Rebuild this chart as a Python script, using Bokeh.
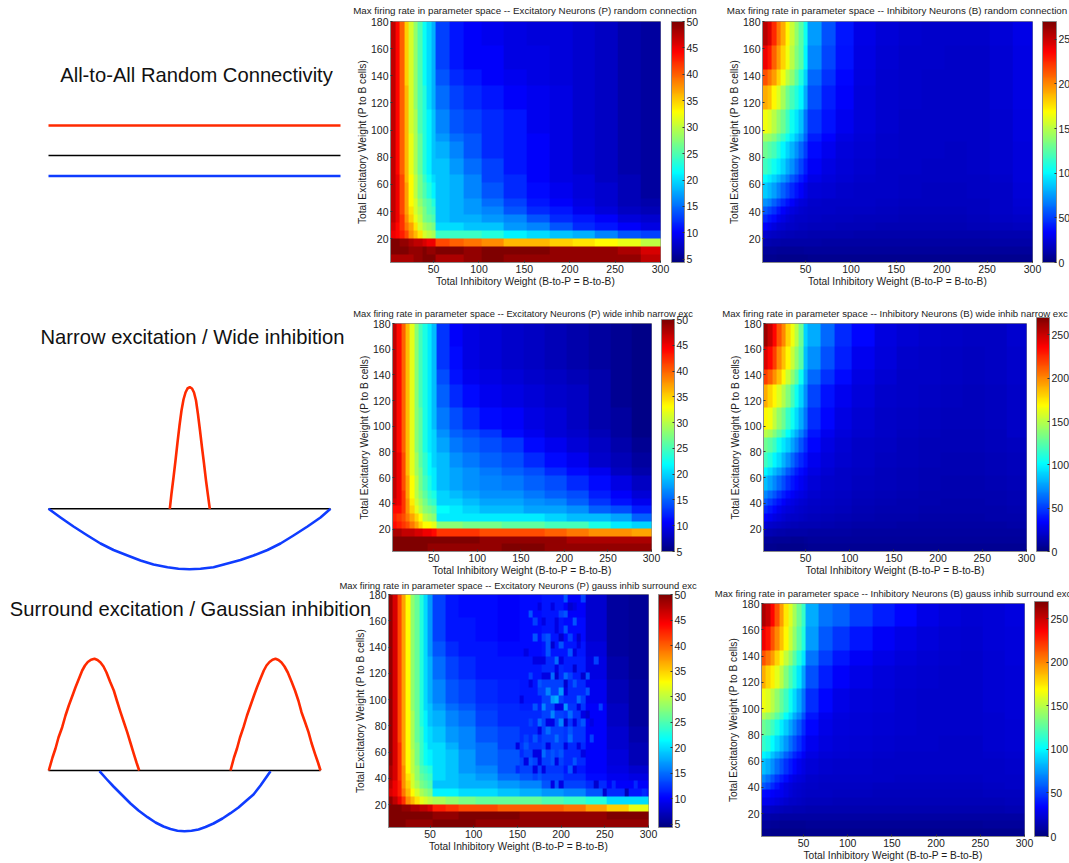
import numpy as np
from bokeh.plotting import figure
from bokeh.layouts import row, column
from bokeh.models import ColorBar, LinearColorMapper, FixedTicker, Range1d, Label
from bokeh.embed import file_html
from bokeh.resources import INLINE

x_edges = [2.5,7.5,12.5,17.5,22.5,27.5,32.5,37.5,42.5,47.5,52.5,65,80,100,125,150,175,200,225,250,275,302.5]
y_edges = [180,160,145,130,115,100,90,80,70,60,50,44,38,32,26,20,14.5,8.5,2.5]

exc_random = [
[47,44,40,35,31,28,25,22,20,18,13,11,10,9.5,9,8.5,8.5,8,7.5,6.5,6],
[47,44,40,35,31,28,25,22,20,18,13,11,10,10,9,9,8.5,8,7.5,6.5,6],
[47,44,40,35,31,28,25,22,20,18,14,12,11,10,9.5,9,8.5,8,7.5,6.5,6],
[47,44,40,36,31,28,25,23,20,18,15,13,12,11,10,9.5,9,8,7.5,6.5,6],
[47,44,40,36,31,29,25,23,21,19,16,14,13,12,11,9.5,9,8,7.5,6.5,6],
[47,44,40,36,32,29,26,23,21,19,17,15,14,12,11,10,9,8,7.5,6.5,6],
[47,44,40,36,32,29,26,23,21,19,18,16,14,12,11,10,9,8,7.5,6.5,6],
[47,44,40,36,32,29,26,23,21,19,19,17,15,13,11,10,9,8,7.5,6.5,6],
[47,45,41,36,33,30,27,24,22,20,19,18,16,13,12,10,9,8.5,7.5,7,6],
[47,45,41,37,33,30,27,25,23,21,19,18,16,14,12,10.5,9.5,8.5,8,7,6],
[47,45,41,37,33,31,28,26,25,23,19,18,17,15,13,11,10,9,8,7,6.5],
[47,45,41,37,34,31,29,27,25,24,19,18,17,16,14,12,11,9.5,8.5,7.5,7],
[47,45,42,38,35,32,30,27,26,25,19,18,18,17,16,14,12,11,10,8.5,8],
[46,44,42,39,37,34,31,29,28,27,20,20,19,19,17,16,14,12,11,10,9],
[45,44,43,41,38,36,34,31,30,29,24,24,24,23,21,20,19,18,16,14,13],
[50,50,49,49,48,47,47,46,45,45,41,40,39,38,36,36,35,34,33,32,30],
[50,50,50,50,49,49,49,50,49,49,50,50,49,50,50,50,49,49,49,48,46],
[48,48,48,48,48,49,49,50,50,50,48,48,49,50,49,49,49,49,49,49,47],
]
inh_random = [
[255,245,225,205,190,170,155,140,125,105,75,55,40,28,24,22,21,21,21,24,28],
[240,230,210,195,180,165,150,135,125,100,70,52,38,27,23,21,21,20,20,23,27],
[215,205,195,180,165,150,140,125,110,90,62,47,35,26,22,21,20,20,20,23,27],
[190,185,170,160,145,130,120,110,100,80,55,42,33,25,22,21,20,19,20,23,27],
[165,160,150,140,130,118,105,95,85,65,48,38,30,25,22,20,19,19,19,22,26],
[145,142,135,125,115,105,95,85,75,60,42,34,27,24,21,20,19,19,19,22,26],
[130,125,120,110,100,90,82,72,62,50,36,30,25,23,21,19,19,18,19,22,25],
[118,112,105,98,90,80,72,62,52,42,32,27,24,22,20,19,18,18,19,22,25],
[102,97,90,83,75,67,58,50,42,35,28,25,23,21,20,18,18,18,18,21,25],
[88,83,76,68,60,52,45,38,33,28,24,23,21,20,19,18,17,17,18,20,24],
[72,68,60,52,45,38,33,28,25,24,21,20,20,19,18,17,17,17,17,20,23],
[58,52,47,40,33,29,26,24,22,21,20,19,18,18,17,16,16,16,17,19,22],
[45,40,36,30,27,24,22,20,19,19,18,17,17,16,16,15,15,15,16,18,20],
[33,29,26,23,22,20,19,18,17,17,16,16,15,15,14,14,14,14,15,16,17],
[22,20,18,17,16,15,15,14,14,14,13,13,13,12,12,12,12,12,12,13,13],
[14,13,12,12,11,11,11,11,11,11,11,10,10,10,10,10,10,10,10,11,11],
[8,8,8,7,7,7,7,7,7,8,8,8,8,8,8,8,8,8,8,8,8],
[5,5,5,4,4,4,4,4,4,4,5,5,5,5,5,5,5,5,5,5,5],
]
exc_wide = [
[47,44,40,36,32,28,25,23,21,19,13,10.5,9.5,9,8.5,8,7.5,7,6.5,6,5.5],
[47,44,40,36,32,28,25,23,21,19,13,11,9.5,9,8.5,8,7.5,7,6.5,6,5.5],
[47,44,40,36,32,28,25,23,21,19,14,11.5,10,9.5,9,8.5,8,7.5,7,6,5.5],
[47,44,40,36,32,28,25,23,21,19,15,12.5,11,10,9.5,9,8.5,8,7,6,5.5],
[47,44,40,36,32,28,26,23,21,19,16,14,12.5,11,10.5,9.5,9,8,7,6.5,5.5],
[47,44,40,36,32,28,26,23,21,20,17,15,14,13,11,10,9,8.5,7.5,6.5,5.5],
[47,44,40,36,32,28,26,23,21,20,18,16,15,14,13,11,10,9,8,7,6],
[47,45,41,36,32,29,26,24,22,20,19,17,16,15,14,12.5,11,10,8.5,7.5,6.5],
[47,45,41,36,32,29,27,24,22,21,19,18,17,16,15,14,12.5,11,10,8,7],
[47,45,41,37,33,30,27,25,23,21,19,18,17,16.5,16,15,14,12.5,11,9.5,8],
[47,45,42,37,33,30,28,26,24,23,20,19,18,17,17,16,15,14,12,10.5,9],
[46,45,42,38,34,31,29,27,25,24,20,20,19,18,18,17,16.5,15,13,11.5,10],
[44,44,42,38,35,32,30,28,27,26,22,21,20,19,19,18,18,17,15,14,12],
[43,42,41,39,37,35,33,30,29,28,21,21,21,21,21,21,20,19,19,18,15],
[44,43,42,41,39,37,35,33,33,32,28,28,27,27,26,26,25,25,23,21,20],
[48,48,47,47,47,46,46,45,45,44,42,42,42,41,41,41,40,39,38,38,37],
[50,50,50,50,50,50,50,50,50,50,50,50,50,49,49,49,49,48,48,48,48],
[50,50,50,50,50,50,50,50,49,49,49,49,49,49,50,50,49,49,49,49,49],
]
inh_wide = [
[262,250,235,215,200,180,165,150,130,90,80,62,45,35,26,23,21,19,18,18,22],
[245,235,220,200,185,170,155,140,125,85,72,55,42,30,25,21,20,18,17,18,21],
[220,210,198,185,170,155,140,125,105,80,62,47,36,27,23,20,19,18,17,18,21],
[190,180,170,160,148,135,120,105,90,72,52,38,30,25,21,19,18,17,16,17,20],
[170,165,152,140,130,115,105,92,80,65,46,35,27,23,20,18,17,16,16,17,20],
[150,145,135,125,115,102,90,80,68,55,40,30,25,22,19,17,16,15,15,16,19],
[130,125,118,105,95,88,78,68,56,46,35,27,23,20,18,16,15,15,15,16,17],
[118,110,100,92,82,72,62,52,45,38,30,25,22,19,17,16,15,14,14,15,16],
[100,92,84,76,68,58,50,42,36,32,27,23,20,18,16,15,14,14,14,15,16],
[85,78,70,62,54,46,40,35,31,28,24,21,19,17,16,15,14,13,13,14,15],
[70,63,56,48,42,36,32,29,27,25,22,20,18,16,15,14,13,13,13,13,14],
[57,50,44,38,33,29,27,25,23,22,20,18,17,15,14,13,13,12,12,13,14],
[45,40,35,30,27,25,24,22,21,20,18,17,16,14,13,13,12,12,12,12,13],
[34,30,27,25,23,21,20,19,18,17,16,15,14,13,12,12,11,11,11,12,12],
[24,21,19,18,17,16,15,15,14,14,14,13,12,11,11,10,10,10,10,10,11],
[15,14,13,12,12,11,11,11,11,11,10,10,10,9,9,9,9,9,9,9,9],
[8,8,7,7,7,7,6,6,6,7,8,8,8,8,8,8,8,8,8,8,8],
[5,5,5,4,4,4,4,4,4,5,6,6,6,6,6,6,6,6,6,6,6],
]
exc_gauss = [
[49,46,41,37,33,28,26,23,20,17,13,11,10.5,10.5,10,10.5,11,10,8,6,5.5],
[49,46,41,37,33,28,26,23,20,17,13,11,11,10.5,10,10.5,11,10.5,8,6,5.5],
[49,46,41,37,33,28,26,23,20,17,14,12,11,11,10.5,10.5,11,11,8.5,6,5.5],
[49,46,41,37,33,28,26,23,20,18,15,13,12,11,11,11,12,11.5,9,6.5,5.5],
[49,46,41,37,33,28,26,23,20,18,16,14,13,12,11.5,11,13,12,9.5,7,6],
[49,46,41,37,33,28,26,23,20,19,17,15,14,12.5,12,11.5,13,12.5,10,7.5,6],
[49,46,41,37,33,29,26,23,21,19,18,16,15,13,12,12,13,12.5,10,7.5,6],
[49,46,41,37,33,29,26,24,21,20,19,17,16,14,13,12,13,12.5,10,8,6.5],
[49,46,42,37,33,29,27,24,22,20,20,18,16,15,13,12.5,13,12,10,8,7],
[49,46,42,37,33,30,27,24,22,21,20,19,17,15,14,13,13,12,10,8.5,7],
[48,46,42,38,33,30,28,25,24,23,20,19,17,16,14,13,12.5,11,10,9,8],
[48,46,42,38,34,31,28,26,25,24,20,19,18,17,15,14,13,12,10.5,9.5,9],
[47,45,43,38,35,31,29,27,26,25,19,19,18,18,17,16,14,13,12,10,10],
[46,45,43,39,36,33,31,29,28,27,21,21,20,20,19,18,17,16,14,12,11],
[49,47,45,42,38,36,34,32,31,30,29,28,27,26,26,26,25,24,23,20,20],
[50,50,50,49,49,48,48,47,47,46,43,42,41,41,40,40,40,39,37,35,32],
[50,50,50,50,50,50,50,50,50,50,49,49,50,50,50,49,49,49,49,50,50],
[50,50,50,50,49,49,49,49,49,49,50,50,50,49,49,49,49,49,49,49,49],
]
inh_gauss = [
[258,250,235,215,195,175,160,145,130,115,80,65,60,50,42,35,28,25,23,24,26],
[240,232,215,200,185,170,155,140,125,110,75,58,48,40,32,28,25,23,22,24,25],
[215,205,195,180,165,152,140,125,110,95,65,50,40,32,28,25,23,22,21,23,25],
[190,180,172,162,150,135,122,110,95,78,55,42,33,28,25,23,22,21,21,23,24],
[165,160,150,140,128,118,105,92,80,65,46,35,28,25,24,22,21,21,21,23,24],
[148,142,135,125,115,102,92,80,70,55,40,30,26,24,23,22,21,21,21,22,24],
[130,125,118,108,98,88,78,68,58,46,35,28,25,24,23,22,21,21,21,22,23],
[115,110,102,92,84,74,64,55,47,38,30,26,24,23,22,21,21,20,20,22,23],
[100,95,86,78,70,60,52,44,38,32,27,24,23,22,21,20,20,20,20,21,22],
[85,80,72,63,55,47,41,35,30,27,24,22,21,21,20,20,19,19,19,20,21],
[70,64,56,48,42,36,30,27,25,24,21,20,20,19,19,18,18,18,18,19,20],
[58,52,45,38,31,27,25,23,22,21,19,18,18,18,17,17,17,17,17,18,19],
[36,35,33,31,30,27,24,22,21,19,18,18,17,17,16,16,16,16,16,17,17],
[30,29,28,26,24,22,20,19,18,17,16,16,15,15,15,15,15,15,15,15,16],
[20,19,18,17,16,15,15,14,14,14,13,13,13,13,13,13,13,13,13,13,14],
[12,12,11,11,10,10,10,10,10,10,10,10,10,10,10,10,10,10,10,10,10],
[8,8,7,7,6,6,6,6,6,6,7,7,7,7,7,7,7,7,7,8,8],
[5,5,4,4,4,4,4,4,4,4,5,5,5,5,5,5,5,5,5,5,5],
]
# scattered single cells of the gauss-inhibition excitatory map: weight x, weight y, rate
speckle_x = [200,195,190,185,205,180,190,210,200,175,220,215,205,195,200,210,190,175,185,195,210,170,180,200,165,215,190,160,225,235,230,240,215,200,190,205,180,210,170,225,
             195,205,185,215,200,190,205,175,215,185,205,195,175,215,200,190,210,195,180,225,220,170,165,230,225,170,250,260,275,285,240,295,
             150,155,160,165,170,175,180,185,150,160,170,180,190,200,210,220,155,165,175,185,195,205,215,225,160,170,180,190,200,210,220,230,175,185,195,205,215,225,165,175,185,195,205,215,235,245,170,180,190,200,210,220]
speckle_y = [105,100,100,105,95,95,90,90,85,85,100,110,120,130,140,135,115,110,75,70,70,70,60,60,55,55,50,65,80,70,115,130,160,165,170,178,150,150,160,175,
             120,110,120,125,95,80,80,75,85,65,65,55,60,45,150,140,170,160,130,120,150,130,110,90,60,45,30,35,30,35,35,30,
             48,60,72,84,96,108,120,138,66,54,42,48,60,72,48,66,102,120,132,144,156,168,174,102,138,150,162,174,132,120,144,108,54,84,96,108,114,90,168,174,150,126,156,138,84,96,60,72,36,36,78,96]
speckle_v = [17,18,17,16,17,16,16,15,16,15,15,14,15,15,14,14,15,14,15,15,15,14,15,14,14,14,14,14,14,13,14,13,14,13,14,14,13,13,13,13,
             8,8,9,8,9,9,8,9,9,9,9,9,9,9,8,8,8,9,9,8,8,9,9,8,9,9,8,12,7,12,8,12,
             12,12,13,13,14,13,9,14,9,9,13,9,14,13,14,9,9,13,9,14,9,14,9,13,9,14,9,9,9,13,9,14,9,9,9,9,14,9,14,9,14,9,14,9,9,13,9,13,9,9,14,9]

x_ticks = [50,100,150,200,250,300]
y_ticks = [20,40,60,80,100,120,140,160,180]
exc_ticks = [5,10,15,20,25,30,35,40,45,50]
inh_ticks = [0,50,100,150,200,250]

red_x1 = [169.3,171,173,175,177,179,181,183,185,187,189.3,191.5,193.5,195.5,197.5,199.5,201.5,203.5,205.5,207.5,209.3]
red_y1 = [508.3,493,477,460,442,425,410,399,392,388,386.7,388,392,400,414,430,447,463,480,495,508.3]
blue_x1 = [48,60,73,87,100,113,127,140,153,167,178,189,200,213,227,240,253,267,280,293,307,320,330]
blue_y1 = [508.3,517,526,535,543,549.5,555,560,564,566.7,568.2,568.7,568.2,566.7,563,559.5,555,549.5,543,535,526,517,508.3]
red_x2a = [48.3,52,55,58,61.7,65,68.3,72,75,78.5,81.7,84.5,87.3,90.5,94,97,100,103,106,109.5,113.3,116.5,120,123.3,126.7,130,133.3,136,138.7]
red_x2b = [230,233.5,236.5,239.5,243,246.5,250,253.5,256.5,260,263.3,266,269,272,275,278,281,284,287.3,291,294.5,298,301,304.5,308,311,314.5,317.5,320]
red_y2 = [770,757,748,737,726.7,715,705,695,686.7,678,670,665,661.5,659.2,658.3,659.5,662,666,672,681,690,700.5,711.7,721.5,731.7,742.5,753.3,762,770]
blue_x2 = [99,106,113,121,130,138,147,155,163,170,177,184,191,198,205,213,222,230,238,246,253,260,270]
blue_y2 = [770.7,778.5,786,794,803,810,816.7,822,826,828.5,830.2,830.7,830.2,829,826.5,823,818,812.7,807,800,794,785,770.7]

headings = ["All-to-All Random Connectivity", "Narrow excitation / Wide inhibition", "Surround excitation / Gaussian inhibition"]
FONT = "Liberation Sans"
RED, BLUE = "#ff2a00", "#0f3cff"
N_X, N_Y = 60, 30   # the simulated grid of each map

def jet(n=256):
    xs = np.linspace(0, 1, n)
    r = np.clip(np.minimum(4*xs-1.5, -4*xs+4.5), 0, 1)
    g = np.clip(np.minimum(4*xs-0.5, -4*xs+3.5), 0, 1)
    b = np.clip(np.minimum(4*xs+0.5, -4*xs+2.5), 0, 1)
    return ["#%02x%02x%02x" % (int(a*255), int(c*255), int(d*255)) for a, c, d in zip(r, g, b)]
JET = jet()

def grid_of(data, speckle=None):
    arr = np.array(data, dtype=float)
    xc = 2.5 + 5*(np.arange(N_X)+0.5)
    yc = 2.5 + (177.5/N_Y)*(np.arange(N_Y)+0.5)
    ix = np.clip(np.searchsorted(x_edges, xc)-1, 0, arr.shape[1]-1)
    ye = y_edges[::-1]
    iy = arr.shape[0]-1-np.clip(np.searchsorted(ye, yc)-1, 0, arr.shape[0]-1)
    img = arr[np.ix_(iy, ix)]
    if speckle is not None:
        for sx, sy, sv in zip(*speckle):
            i = min(N_X-1, int((sx-2.5)//5))
            j = min(N_Y-1, int((sy-2.5)//(177.5/N_Y)))
            img[j, i] = sv
    return img

def panel(data, low, high, cticks, fig, frame, cb, speckle=None):
    """fig = (left, top, right, bottom) window box, frame = same for the axes, cb = (left, right)."""
    fl, ft, fr, fb = fig
    al, at, ar, ab = frame
    p = figure(width=fr-fl, height=fb-ft, output_backend="svg", toolbar_location=None,
               x_range=Range1d(2.5, 300), y_range=Range1d(2.5, 180),
               min_border_left=al-fl, min_border_right=fr-ar, min_border_top=at-ft, min_border_bottom=fb-ab,
               background_fill_color=None, border_fill_color=None, outline_line_color="#8a8a8a")
    p.grid.visible = False
    mapper = LinearColorMapper(palette=JET, low=low, high=high)
    p.image(image=[grid_of(data, speckle)], x=2.5, y=2.5, dw=300, dh=177.5, color_mapper=mapper)
    for ax, ticks, label in ((p.xaxis[0], x_ticks, "Total Inhibitory Weight (B-to-P = B-to-B)"),
                             (p.yaxis[0], y_ticks, "Total Excitatory Weight (P to B cells)")):
        ax.ticker = FixedTicker(ticks=ticks)
        ax.axis_label = label
        ax.axis_label_text_font = FONT
        ax.axis_label_text_font_size = "10.2px"
        ax.axis_label_text_font_style = "normal"
        ax.axis_label_text_color = "#1c1c1c"
        ax.major_label_text_font = FONT
        ax.major_label_text_font_size = "10.5px"
        ax.major_label_text_color = "#1c1c1c"
        ax.axis_line_color = "#8a8a8a"
        ax.major_tick_line_color = "#333333"
        ax.major_tick_in = 2
        ax.major_tick_out = 0
        ax.minor_tick_line_color = None
        ax.major_label_standoff = 2
        ax.axis_label_standoff = 0
    cbar = ColorBar(color_mapper=mapper, ticker=FixedTicker(ticks=cticks), width=cb[1]-cb[0], height=ab-at,
                    location=(cb[0]-al, 0), padding=0, margin=0, background_fill_color=None, border_line_color=None,
                    bar_line_color="#8a8a8a", major_tick_line_color="#333333", major_tick_in=2,
                    minor_tick_line_color=None, label_standoff=2,
                    major_label_text_font=FONT, major_label_text_font_size="10.5px", major_label_text_color="#1c1c1c")
    p.add_layout(cbar, "center")
    return p

# page-sized backdrop: schematics, headings and the panel titles, which may run over panel boundaries
sch = figure(width=1069, height=863, output_backend="svg", toolbar_location=None,
             x_range=Range1d(0, 1069), y_range=Range1d(863, 0), min_border=0,
             background_fill_color=None, border_fill_color=None, outline_line_color=None)
sch.axis.visible = False
sch.grid.visible = False
for xs, ys, c, w in [([48, 340], [125, 125], RED, 2.6), ([48, 340], [155, 155], "black", 1.5), ([48, 340], [175.5, 175.5], BLUE, 2.6),
                     ([48, 330], [508.3, 508.3], "black", 1.5), (red_x1, red_y1, RED, 2.6), (blue_x1, blue_y1, BLUE, 2.6),
                     ([48, 320], [770, 770], "black", 1.5), (red_x2a, red_y2, RED, 2.6), (red_x2b, red_y2, RED, 2.6), (blue_x2, blue_y2, BLUE, 2.6)]:
    sch.line(xs, ys, line_color=c, line_width=w, line_join="round")
for txt, cx, cy in zip(headings, [196, 192, 190], [74, 336, 608]):
    sch.add_layout(Label(x=cx, y=cy, text=txt, text_font=FONT, text_font_size="20.2px", text_align="center",
                         text_baseline="middle", text_color="#111111"))
titles = [
    ("Max firing rate in parameter space -- Excitatory Neurons (P) random connection", 524.5, 10, "9.75px"),
    ("Max firing rate in parameter space -- Excitatory Neurons (P) wide inhib narrow exc", 522.5, 313, "9.35px"),
    ("Max firing rate in parameter space -- Excitatory Neurons (P) gauss inhib surround exc", 517.5, 584.5, "9.45px"),
    ("Max firing rate in parameter space -- Inhibitory Neurons (B) random connection", 896.5, 10, "9.75px"),
    ("Max firing rate in parameter space -- Inhibitory Neurons (B) wide inhib narrow exc", 894.5, 313, "9.6px"),
    ("Max firing rate in parameter space -- Inhibitory Neurons (B) gauss inhib surround exc", 892.5, 593, "9.5px"),
]
for txt, cx, cy, size in titles:
    sch.add_layout(Label(x=cx, y=cy, text=txt, text_font=FONT, text_font_size=size, text_align="center",
                         text_baseline="middle", text_color="#1c1c1c"))

MID = (338, 700)
RIGHT = (700, 1069)
rows = [(0, 300), (300, 578), (578, 863)]
p1 = panel(exc_random, 4.4, 50, exc_ticks, (MID[0], rows[0][0], MID[1], rows[0][1]), (390, 21, 660, 262), (671, 684))
p3 = panel(exc_wide, 5, 50, exc_ticks, (MID[0], rows[1][0], MID[1], rows[1][1]), (392, 323, 651, 555), (661, 674))
p5 = panel(exc_gauss, 4.4, 50, exc_ticks, (MID[0], rows[2][0], MID[1], rows[2][1]), (388, 594, 648, 827), (658, 672),
           speckle=(speckle_x, speckle_y, speckle_v))
p2 = panel(inh_random, 0, 270, inh_ticks, (RIGHT[0], rows[0][0], RIGHT[1], rows[0][1]), (762, 21, 1032, 262), (1042, 1056))
p4 = panel(inh_wide, 0, 270, inh_ticks, (RIGHT[0], rows[1][0], RIGHT[1], rows[1][1]), (763, 323, 1026, 557), (1036, 1049))
p6 = panel(inh_gauss, 0, 270, inh_ticks, (RIGHT[0], rows[2][0], RIGHT[1], rows[2][1]), (761, 603, 1024, 838), (1034, 1048))

mid = column(row(p1), row(p3), row(p5), spacing=0, margin=(0, 0, 0, 338-1069))
right = column(row(p2), row(p4), row(p6), spacing=0, margin=0)
root = row(sch, mid, right, spacing=0, margin=0)
open("out.html", "w").write(file_html(root, INLINE))
